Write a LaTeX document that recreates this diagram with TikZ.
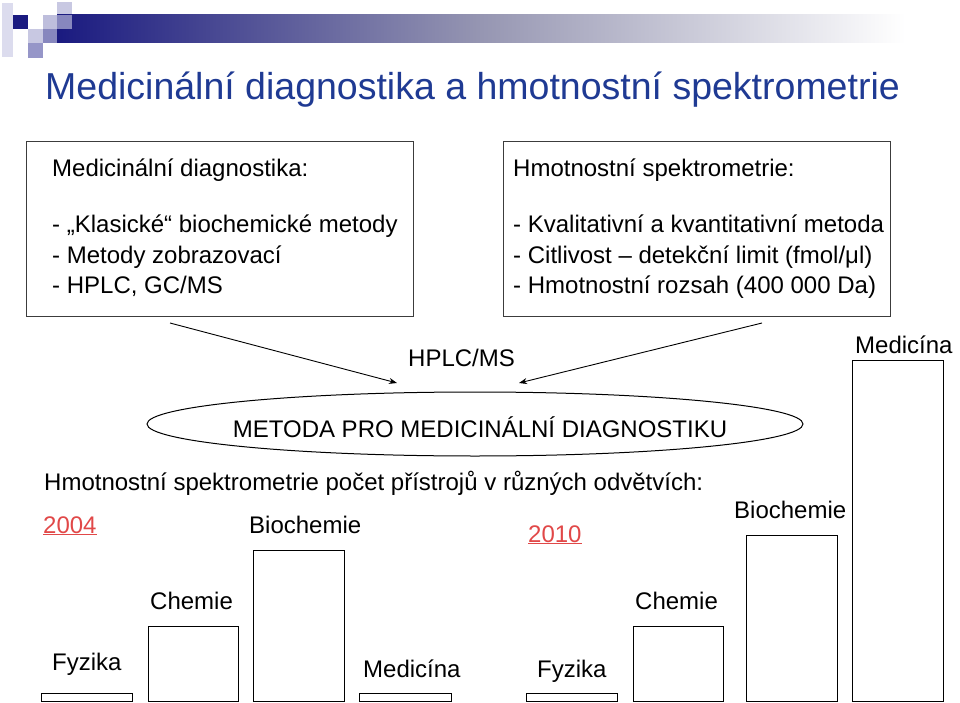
\documentclass[tikz,border=0pt]{standalone}
\usepackage{fontspec}
\setmainfont{Liberation Sans}
\usetikzlibrary{arrows.meta,shapes.geometric}
\definecolor{navy}{RGB}{26,26,128}
\definecolor{titleblue}{RGB}{31,58,147}
\definecolor{yearred}{RGB}{225,72,72}
\definecolor{boxgray}{RGB}{60,60,60}
\definecolor{sqA}{RGB}{220,220,238}
\definecolor{sqB}{RGB}{200,200,226}
\definecolor{sqC}{RGB}{150,150,200}
\definecolor{sqD}{RGB}{135,135,190}
\definecolor{sqE}{RGB}{190,190,220}
\tikzset{
  txt/.style={inner sep=0pt, anchor=base west, font=\fontsize{24}{28}\selectfont},
  infobox/.style={draw=boxgray, line width=1pt, inner sep=0pt},
  barbox/.style={draw=black, line width=1pt, inner sep=0pt, anchor=south west},
  conn/.style={line width=0.9pt, -{Stealth[length=8pt,width=6pt]}},
  year/.style={txt, text=yearred},
}
\begin{document}
\begin{tikzpicture}[x=1pt,y=-1pt]
\useasboundingbox (0,0) rectangle (960,703);
\fill[white] (0,0) rectangle (960,703);
% header decoration
\fill[sqA] (2,3) rectangle (13,57);
\fill[navy] (13,15) rectangle (28,29);
\fill[sqB] (28,29) rectangle (43,43);
\fill[sqC] (28,43) rectangle (43,58);
\fill[sqB] (57,2) rectangle (72,15);
\shade[left color=navy, right color=white, middle color={rgb,255:red,150;green,150;blue,178}] (57,15) rectangle (905,43);
\fill[sqE] (43,15) rectangle (57,29);
\fill[sqD] (57,15) rectangle (72,29);
\fill[sqD] (43,29) rectangle (57,43);
% title
\node[inner sep=0pt, anchor=base west, text=titleblue, font=\fontsize{37.5}{42}\selectfont] (title) at (45,100) {Medicinální diagnostika a hmotnostní spektrometrie};
% left box
\node[infobox, minimum width=387, minimum height=174] (lbox) at (219.5,229) {};
\node[txt] (l1) at (52,177) {Medicinální diagnostika:};
\node[txt] (l2) at (52,233) {- „Klasické“ biochemické metody};
\node[txt] (l3) at (52,263) {- Metody zobrazovací};
\node[txt] (l4) at (52,293) {- HPLC, GC/MS};
% right box
\node[infobox, minimum width=387, minimum height=174] (rbox) at (696.5,229) {};
\node[txt] (r1) at (513,177) {Hmotnostní spektrometrie:};
\node[txt] (r2) at (513,233) {- Kvalitativní a kvantitativní metoda};
\node[txt] (r3) at (513,263) {- Citlivost – detekční limit (fmol/μl)};
\node[txt] (r4) at (513,293) {- Hmotnostní rozsah (400 000 Da)};
% arrows
\coordinate (la) at (170,323);
\coordinate (lb) at (397,383);
\coordinate (ra) at (762,323);
\coordinate (rb) at (519,383);
\draw[conn] (la) -- (lb);
\draw[conn] (ra) -- (rb);
\node[txt] (hplc) at (408,366) {HPLC/MS};
% ellipse
\node[draw, ellipse, line width=1pt, minimum width=656, minimum height=64, inner sep=0pt] (ell) at (475,424) {};
\node[inner sep=0pt, anchor=base, font=\fontsize{24}{28}\selectfont] (metoda) at (480,437) {METODA PRO MEDICINÁLNÍ DIAGNOSTIKU};
% chart heading
\node[txt] (chart) at (44,490) {Hmotnostní spektrometrie počet přístrojů v různých odvětvích:};
% 2004
\node[year] (y04) at (43,533) {\underline{2004}};
\node[txt] (b04t) at (249,533) {Biochemie};
\node[txt] (c04t) at (150,609) {Chemie};
\node[txt] (f04t) at (52,670) {Fyzika};
\node[txt] (m04t) at (363,677) {Medicína};
\node[barbox, minimum width=91, minimum height=8] (f04) at (41,702) {};
\node[barbox, minimum width=90, minimum height=75] (c04) at (148,702) {};
\node[barbox, minimum width=91, minimum height=151] (b04) at (253,702) {};
\node[barbox, minimum width=92, minimum height=8] (m04) at (359,702) {};
% 2010
\node[year] (y10) at (528,542) {\underline{2010}};
\node[txt] (b10t) at (734,518) {Biochemie};
\node[txt] (c10t) at (635,609) {Chemie};
\node[txt] (f10t) at (537,677) {Fyzika};
\node[txt] (m10t) at (855,353) {Medicína};
\node[barbox, minimum width=91, minimum height=8] (f10) at (526,702) {};
\node[barbox, minimum width=90, minimum height=75] (c10) at (633,702) {};
\node[barbox, minimum width=91, minimum height=166] (b10) at (746,702) {};
\node[barbox, minimum width=91, minimum height=341] (m10) at (852,702) {};
\end{tikzpicture}
\end{document}
